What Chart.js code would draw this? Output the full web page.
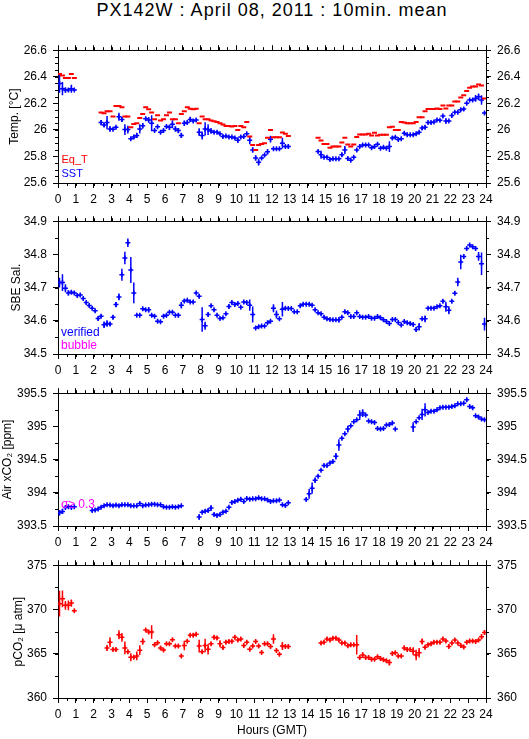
<!DOCTYPE html>
<html><head><meta charset="utf-8">
<script src="https://cdn.jsdelivr.net/npm/chart.js@4.4.1/dist/chart.umd.min.js"></script>
<style>
html,body{margin:0;padding:0;background:#fff;}
body{width:529px;height:739px;position:relative;overflow:hidden;font-family:'Liberation Sans',Arial,Helvetica,sans-serif;}
#title{position:absolute;left:0;top:1px;width:544px;text-align:center;font-size:18px;line-height:18px;letter-spacing:1px;color:#000;white-space:nowrap;}
canvas{position:absolute;left:0;}
</style></head><body>
<div id="title">PX142W : April 08, 2011 : 10min. mean</div>
<canvas id="c1" width="529" height="171" style="top:37px"></canvas>
<canvas id="c2" width="529" height="171" style="top:208px"></canvas>
<canvas id="c3" width="529" height="171" style="top:380px"></canvas>
<canvas id="c4" width="529" height="187" style="top:552px"></canvas>
<script>
// centre of each 10-minute bin (hours GMT)
const binHours = Array.from({length: 144}, (_, i) => (i + 0.5) / 6);
const hourTicks = [0,1,2,3,4,5,6,7,8,9,10,11,12,13,14,15,16,17,18,19,20,21,22,23,24];

const N8 = [null,null,null,null,null,null,null,null];
const N9 = [null,null,null,null,null,null,null,null,null];
const N5 = [null,null,null,null,null];
const N10 = [null,null,null,null,null,null,null,null,null,null];

// ---- Panel 1: temperature ----
const sst = [26.35,26.31,26.30,26.30,26.31,26.30, ...N8,
 26.055,26.036,26.055,26.007,26.005,26.019,26.099,26.079,26.002,26.002,
 25.934,25.946,25.958,26.007,26.031,26.084,26.075,26.050,25.995,26.024,
 25.983,25.995,26.026,26.019,26.043,26.007,25.995,25.958,26.050,26.055,
 26.079,26.067,26.075,25.983,25.958,26.007,26.002,25.992,25.983,25.983,
 25.970,25.951,25.953,25.946,25.946,25.939,25.922,25.946,25.951,25.970,
 25.922,25.849,25.789,25.757,25.789,25.810,25.835,25.930,25.857,25.857,
 25.857,25.900,25.874,25.874, ...N9,
 25.837,25.813,25.794,25.794,25.777,25.782,25.782,25.782,25.813,25.849,
 25.784,25.772,25.794,25.849,25.874,25.886,25.886,25.886,25.866,25.874,
 25.891,25.862,25.869,25.862,25.874,25.939,25.944,25.927,25.934,25.975,
 25.963,25.963,25.963,25.970,25.983,26.014,26.019,26.055,26.055,26.060,
 26.075,26.072,26.104,26.067,26.067,26.108,26.133,26.133,26.152,26.157,
 26.200,26.225,26.225,26.237,26.249,26.225,26.128];
const sstErr = [.07,.05,.02,.015,.03,.01, ...N8,
 .02,.015,.05,.02,.01,.01,.03,.02,.04,.03,
 .01,.015,.02,.035,.02,.015,.02,.06,.01,.01,
 .01,.01,.01,.02,.03,.02,.02,.02,.02,.015,
 .02,.01,.01,.03,.03,.05,.04,.02,.01,.01,
 .01,.01,.01,.01,.01,.01,.02,.01,.01,.01,
 .03,.02,.02,.025,.01,.01,.02,.025,.01,.01,
 .01,.04,.01,.015, ...N9,
 .01,.03,.01,.01,.01,.01,.01,.01,.015,.03,
 .01,.01,.01,.015,.01,.01,.01,.01,.01,.01,
 .01,.01,.01,.01,.04,.015,.01,.01,.01,.01,
 .01,.01,.01,.01,.01,.015,.015,.01,.01,.01,
 .01,.01,.01,.02,.01,.015,.01,.01,.01,.015,
 .01,.01,.01,.025,.025,.035,.01];
const eqT = [26.42,26.41,26.39,26.39,26.42,26.39, ...N8,
 26.13,26.125,26.14,26.14,26.10,26.18,26.18,26.17,26.10,26.10,
 26.02,26.045,26.05,26.09,26.12,26.17,26.155,26.13,26.08,26.11,
 26.07,26.08,26.11,26.13,26.08,26.08,26.05,26.12,26.14,26.17,
 26.16,26.155,26.16,26.05,26.10,26.08,26.08,26.07,26.065,26.06,
 26.05,26.04,26.03,26.03,26.025,26.03,26.00,26.03,26.02,26.06,
 25.95,25.886,25.849,25.886,25.893,25.90,25.94,26.00,25.945,25.945,
 25.945,25.98,25.97,25.953, ...N9,
 25.94,25.92,25.893,25.893,25.866,25.874,25.874,25.874,25.905,25.94,
 25.89,25.874,25.89,25.946,25.966,25.966,25.966,25.97,25.958,25.978,
 25.958,25.963,25.963,25.963,26.019,26.024,26.00,26.00,26.06,26.055,
 26.05,26.05,26.05,26.06,26.096,26.096,26.14,26.157,26.157,26.157,
 26.161,26.157,26.184,26.161,26.184,26.184,26.213,26.213,26.244,26.261,
 26.292,26.317,26.326,26.326,26.341,26.334,26.237];

// ---- Panel 2: SBE salinity ----
const sal = [
 34.715,34.715,34.698,34.684,34.686,34.684,34.676,34.678,34.667,34.655,
 34.646,34.638,34.630,34.607,34.614,34.588,34.592,34.590,34.611,34.649,
 34.672,34.739,34.789,34.835,34.753,34.684,34.617,34.617,34.636,34.633,
 34.633,34.617,34.614,34.599,34.597,34.614,34.617,34.626,34.626,34.617,
 34.617,34.647,34.660,34.662,34.657,34.657,34.684,34.674,34.604,34.585,
 34.619,34.645,34.633,34.617,34.607,34.609,34.621,34.643,34.655,34.649,
 34.652,34.641,34.657,34.655,34.647,34.619,34.578,34.582,34.584,34.584,
 34.594,34.599,34.638,34.619,34.606,34.635,34.638,34.637,34.637,34.627,
 34.627,34.645,34.650,34.650,34.650,34.647,34.633,34.624,34.621,34.611,
 34.606,34.604,34.603,34.603,34.603,34.611,34.627,34.624,34.613,34.613,
 34.624,34.613,34.611,34.611,34.613,34.608,34.608,34.613,34.609,34.603,
 34.598,34.592,34.604,34.604,34.595,34.587,34.598,34.594,34.592,34.589,
 34.574,34.582,34.606,34.606,34.638,34.638,34.638,34.642,34.645,34.659,
 34.642,34.632,34.659,34.683,34.717,34.777,34.794,34.818,34.828,34.823,
 34.818,34.794,34.772,34.590];
const salErr = [
 .015,.025,.012,.008,.005,.005,.005,.005,.005,.005,
 .004,.004,.004,.006,.005,.01,.01,.006,.006,.008,
 .01,.018,.019,.013,.039,.031,.004,.004,.004,.004,
 .008,.004,.004,.005,.004,.004,.004,.004,.004,.004,
 .006,.01,.006,.004,.004,.006,.004,.006,.037,.012,
 .006,.004,.004,.004,.003,.003,.004,.006,.004,.004,
 .004,.003,.004,.004,.017,.024,.003,.003,.003,.003,
 .004,.003,.012,.012,.004,.022,.004,.004,.004,.004,
 .004,.005,.004,.004,.004,.004,.004,.004,.004,.004,
 .004,.004,.004,.004,.008,.004,.005,.004,.004,.004,
 .004,.004,.004,.004,.004,.004,.004,.004,.004,.004,
 .004,.005,.004,.004,.004,.004,.004,.004,.004,.004,
 .007,.011,.004,.01,.004,.004,.004,.004,.004,.005,
 .015,.012,.004,.005,.013,.022,.006,.004,.004,.004,
 .004,.013,.034,.019];

// ---- Panel 3: air xCO2 ----
const xco2 = [393.70,393.72,393.78,393.79,393.78,393.79, ...N5,
 393.732,393.742,393.757,393.781,393.805,393.820,393.815,393.805,393.815,393.805,
 393.820,393.820,393.820,393.805,393.805,393.805,393.839,393.805,393.815,393.820,
 393.829,393.829,393.820,393.820,393.791,393.781,393.781,393.791,393.781,393.791,393.805, ...N5,
 393.636,393.708,393.723,393.732,393.771,393.674,393.660,393.674,393.708,393.723,
 393.781,393.854,393.868,393.887,393.902,393.868,393.916,393.902,393.912,393.912,393.926,
 393.91,393.91,393.89,393.87,393.88,393.88,393.89,393.82,393.81,393.85, ...N5,
 393.90,393.985,394.07,394.19,394.25,394.34,394.41,394.41,394.45,394.47,
 394.55,394.72,394.82,394.89,394.96,395.01,395.07,395.10,395.17,395.20,
 395.17,395.08,395.07,395.06,394.97,394.96,394.97,395.02,395.03,395.05,394.96, ...N5,
 394.99,395.07,395.13,395.18,395.25,395.21,395.23,395.23,395.25,395.28,
 395.29,395.29,395.29,395.30,395.31,395.34,395.34,395.35,395.40,395.30,
 395.28,395.16,395.14,395.11,395.10];
const xco2Err = [.04,.04,.02,.02,.02,.02, ...N5,
 .02,.02,.02,.02,.02,.02,.02,.02,.02,.02,
 .02,.02,.02,.02,.02,.02,.02,.02,.02,.02,
 .02,.02,.02,.02,.02,.02,.02,.02,.02,.02,.02, ...N5,
 .04,.02,.02,.02,.04,.02,.02,.02,.02,.02,
 .02,.02,.02,.02,.02,.02,.02,.02,.02,.02,.02,
 .02,.02,.02,.02,.02,.02,.02,.02,.02,.02, ...N5,
 .02,.073,.085,.04,.02,.02,.02,.02,.02,.02,
 .05,.085,.02,.02,.05,.02,.02,.02,.073,.06,
 .02,.02,.02,.02,.02,.02,.02,.02,.02,.02,.02, ...N5,
 .073,.02,.02,.085,.1,.02,.02,.02,.02,.02,
 .02,.02,.02,.02,.02,.02,.02,.02,.03,.02,
 .02,.02,.02,.02,.02];

// ---- Panel 4: pCO2 ----
const pco2 = [370.65,371.20,370.47,370.47,370.72,369.85, ...N10,
 365.65,366.30,365.47,365.47,367.14,366.85,365.65,365.22,364.60,364.60,
 364.75,365.40,366.38,367.68,367.46,367.46,366.01,366.23,365.65,365.43,
 366.12,366.12,366.59,365.87,365.87,364.75,365.94,366.41,367.10,367.10,
 367.21,365.87,365.22,365.94,365.51,366.12,366.85,366.78,366.12,365.69,
 366.30,366.38,366.41,366.85,366.56,366.67,365.94,366.30,365.51,365.87,
 366.38,365.87,365.14,366.12,366.12,
 365.83,366.67,365.36,364.93,365.87,365.83,365.83, ...N10,
 366.20,366.30,366.67,366.56,366.74,366.74,366.56,366.20,366.20,365.91,
 366.01,366.01,366.01,364.57,364.86,364.57,364.57,364.38,364.38,364.67,
 364.46,364.31,364.20,364.02,365.04,365.11,364.75,364.75,365.65,365.47,
 365.47,365.29,364.86,365.11,366.38,365.72,366.01,366.12,366.30,366.30,
 366.30,366.67,366.45,365.83,366.20,366.56,366.20,365.94,365.76,366.30,
 366.45,366.45,366.38,366.56,366.92,367.39];
const pco2Err = [1.45,.95,.5,.55,.4,.15, ...N10,
 .33,.55,.2,.2,.5,.5,.72,.2,.45,.2,
 .5,.55,.36,.2,.2,.76,.2,.2,.2,.2,
 .2,.2,.2,.2,.2,.2,.54,.2,.2,.2,
 .2,.72,.2,.76,.6,.2,.2,.2,.4,.2,
 .2,.2,.2,.2,.2,.2,.2,.2,.2,.2,
 .2,.2,.2,.2,.2,
 .2,.54,.2,.2,.45,.2,.2, ...N10,
 .2,.2,.2,.2,.2,.2,.2,.2,.2,.2,
 .2,.2,1.1,.2,.3,.2,.2,.2,.2,.2,
 .2,.2,.2,.36,.2,.2,.2,.2,.27,.2,
 .2,.45,.6,.54,.33,.2,.2,.2,.2,.2,
 .2,.2,.2,.2,.2,.2,.2,.2,.2,.2,
 .2,.2,.2,.2,.27,.27];

const BLUE = '#0000ff', RED = '#ff0000', MAGENTA = '#ff00ff';

Chart.defaults.font.family = "'Liberation Sans', Arial, Helvetica, sans-serif";
Chart.defaults.font.size = 12;
Chart.defaults.color = '#000';

function points(vals) {
  const out = [];
  vals.forEach((v, i) => { if (v !== null) out.push({x: binHours[i], y: v}); });
  return out;
}
function errorBars(vals, errs) {
  const out = [];
  vals.forEach((v, i) => { if (v !== null) out.push({x: binHours[i], y: [v - errs[i], v + errs[i]]}); });
  return out;
}
// plain number labels: "26" not "26.0"
const plainLabel = v => String(+Number(v).toFixed(4));

const minorTicks = {
  id: 'minorTicks',
  afterDraw(chart, args, o) {
    const {ctx, chartArea: a} = chart;
    const xs = chart.scales.x, ys = chart.scales.y;
    ctx.save();
    ctx.strokeStyle = '#000';
    ctx.lineWidth = 1;
    ctx.beginPath();
    const nx = Math.round((xs.max - xs.min) / o.x);
    for (let i = 0; i <= nx; i++) {
      const p = Math.round(xs.getPixelForValue(xs.min + i * o.x)) + 0.5;
      ctx.moveTo(p, a.bottom); ctx.lineTo(p, a.bottom + o.len);
      ctx.moveTo(p, a.top); ctx.lineTo(p, a.top - o.len);
    }
    const ny = Math.round((ys.max - ys.min) / o.y);
    for (let i = 0; i <= ny; i++) {
      const p = Math.round(ys.getPixelForValue(ys.min + i * o.y)) + 0.5;
      ctx.moveTo(a.left, p); ctx.lineTo(a.left - o.len, p);
      ctx.moveTo(a.right, p); ctx.lineTo(a.right + o.len, p);
    }
    ctx.stroke();
    ctx.restore();
  }
};

const panelText = {
  id: 'panelText',
  afterDraw(chart, args, o) {
    const {ctx, chartArea: a} = chart;
    ctx.save();
    ctx.textAlign = 'left';
    ctx.textBaseline = 'alphabetic';
    (o.items || []).forEach(it => {
      ctx.font = it.size + "px 'Liberation Sans', Arial, sans-serif";
      ctx.fillStyle = it.color;
      ctx.fillText(it.text, a.left + it.dx, a.bottom - it.dy);
    });
    ctx.restore();
  }
};

const gridOpts = {drawOnChartArea: false, drawTicks: true, tickLength: 5, color: '#000', tickColor: '#000', lineWidth: 1, offset: false};
const borderOpts = {display: true, color: '#000', width: 1};

function makePanel(id, p) {
  const datasets = [];
  p.series.forEach(s => {
    datasets.push({
      type: 'scatter', label: s.label, data: points(s.values), showLine: false,
      pointStyle: s.style, pointRadius: 2.5, pointHoverRadius: 2.5,
      borderColor: s.color, backgroundColor: s.color, pointBorderWidth: s.width
    });
    if (s.errors) {
      datasets.push({
        type: 'bar', label: s.label + ' error', data: errorBars(s.values, s.errors),
        backgroundColor: s.color, borderWidth: 0, barThickness: 1.5, grouped: false,
        inflateAmount: 0
      });
    }
  });
  return new Chart(document.getElementById(id), {
    type: 'scatter',
    data: {datasets},
    options: {
      responsive: false, animation: false, events: [], devicePixelRatio: 1,
      layout: {padding: 0},
      plugins: {legend: {display: false}, tooltip: {enabled: false},
        minorTicks: {x: 0.5, y: p.minor, len: 3},
        panelText: {items: p.texts}},
      scales: {
        x: {type: 'linear', position: 'bottom', min: 0, max: 24, offset: false, beginAtZero: false,
          afterBuildTicks: s => { s.ticks = hourTicks.map(v => ({value: v})); },
          ticks: {autoSkip: false, maxRotation: 0, minRotation: 0, padding: 4, font: {size: 12}, callback: plainLabel},
          grid: gridOpts, border: borderOpts,
          title: p.xTitle ? {display: true, text: p.xTitle, padding: {top: 0, bottom: 1}, font: {size: 12}} : {display: false},
          afterFit: s => { s.height = p.bottomH; }},
        x2: {type: 'linear', position: 'top', min: 0, max: 24, offset: false,
          afterBuildTicks: s => { s.ticks = hourTicks.map(v => ({value: v})); },
          ticks: {display: false}, grid: gridOpts, border: borderOpts,
          afterFit: s => { s.height = 8; }},
        y: {type: 'linear', position: 'left', min: p.min, max: p.max, beginAtZero: false,
          ticks: {stepSize: p.step, padding: 6, font: {size: 12}, callback: plainLabel},
          grid: gridOpts, border: borderOpts,
          title: {display: true, text: p.yTitle, padding: {top: p.titlePad, bottom: 0}, font: {size: 12}},
          afterFit: s => { s.width = 58; }},
        y2: {type: 'linear', position: 'right', min: p.min, max: p.max, beginAtZero: false,
          ticks: {stepSize: p.step, padding: 6, font: {size: 12}, callback: plainLabel},
          grid: gridOpts, border: borderOpts,
          afterFit: s => { s.width = 43; }}
      }
    },
    plugins: [minorTicks, panelText]
  });
}

makePanel('c1', {
  min: 25.6, max: 26.6, step: 0.2, minor: 0.05, yTitle: 'Temp. [°C]', titlePad: 7.5, bottomH: 25,
  series: [
    {label: 'Eq_T', values: eqT, color: RED, style: 'line', width: 2},
    {label: 'SST', values: sst, errors: sstErr, color: BLUE, style: 'cross', width: 1.5}
  ],
  texts: [{text: 'Eq_T', color: RED, size: 11, dx: 3.5, dy: 20.5}, {text: 'SST', color: BLUE, size: 11, dx: 3.5, dy: 6}]
});
makePanel('c2', {
  min: 34.5, max: 34.9, step: 0.1, minor: 0.05, yTitle: 'SBE Sal.', titlePad: 9, bottomH: 25,
  series: [{label: 'verified', values: sal, errors: salErr, color: BLUE, style: 'cross', width: 1.5}],
  texts: [{text: 'verified', color: BLUE, size: 12, dx: 3, dy: 18}, {text: 'bubble', color: MAGENTA, size: 12, dx: 3, dy: 5}]
});
makePanel('c3', {
  min: 393.5, max: 395.5, step: 0.5, minor: 0.25, yTitle: 'Air xCO₂ [ppm]', titlePad: 0, bottomH: 25,
  series: [{label: 'Air xCO2', values: xco2, errors: xco2Err, color: BLUE, style: 'cross', width: 1.5}],
  texts: [{text: 'σ≥ 0.3', color: MAGENTA, size: 12, dx: 3, dy: 18}]
});
makePanel('c4', {
  min: 360, max: 375, step: 5, minor: 2.5, yTitle: 'pCO₂ [μ atm]', titlePad: 11.5, bottomH: 41,
  xTitle: 'Hours (GMT)',
  series: [{label: 'pCO2', values: pco2, errors: pco2Err, color: RED, style: 'cross', width: 1.5}],
  texts: []
});
</script>
</body></html>
